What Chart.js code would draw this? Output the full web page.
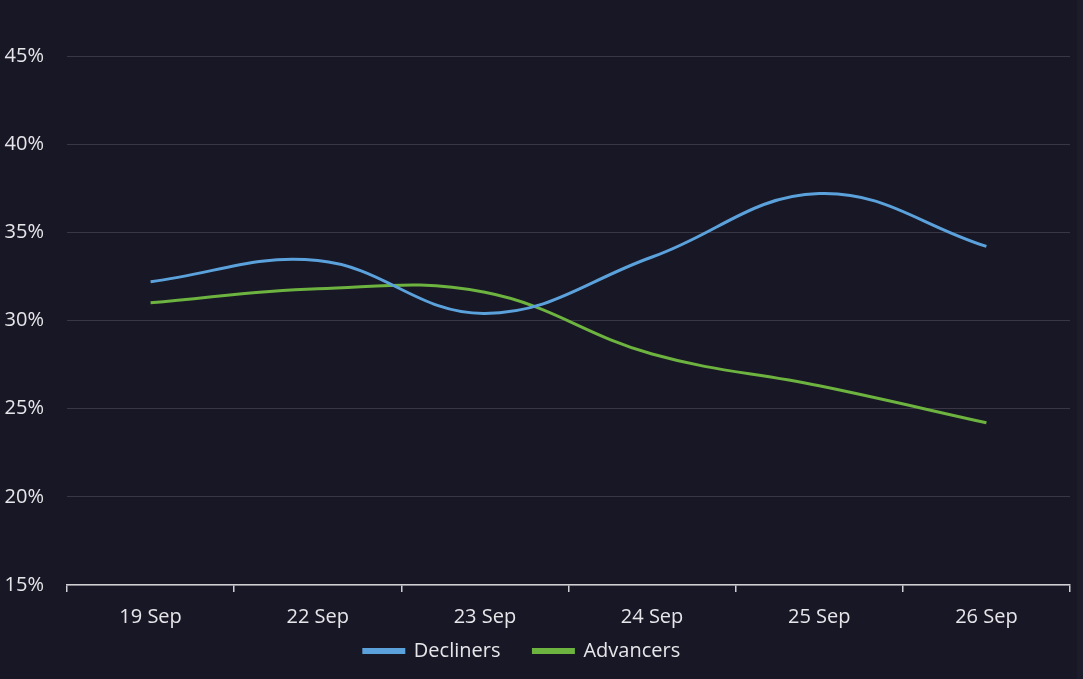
<!DOCTYPE html>
<html>
<head>
<meta charset="utf-8">
<script src="https://cdn.jsdelivr.net/npm/chart.js@4"></script>
<style>
  html, body { margin: 0; padding: 0; background: #1d1c2a; }
  #wrap { position: absolute; left: 0; top: 0; width: 1077px; height: 679px; background: #181725; }
  canvas { display: block; }
</style>
</head>
<body>
<div id="wrap"><canvas id="c" width="1077" height="679"></canvas></div>
<script>
const categories = ["19 Sep", "22 Sep", "23 Sep", "24 Sep", "25 Sep", "26 Sep"];
const decliners = [32.2, 33.4, 30.4, 33.6, 37.2, 34.2];
const advancers = [31.0, 31.8, 31.6, 28.1, 26.3, 24.2];
const yTicks = [15, 20, 25, 30, 35, 40, 45];

const FONT = "'Open Sans', 'DejaVu Sans', sans-serif";
const TEXT = '#e6e6ea';

// move the legend row so that it sits where the reference has it
const legendShift = {
  id: 'legendShift',
  afterLayout(chart) {
    const l = chart.legend;
    if (!l) return;
    const targetCenter = 651;
    const cur = l.top + l.options.labels.padding + 10;
    const d = targetCenter - cur;
    l.top += d; l.bottom += d;
    l.left -= 14; l.right -= 14;
  }
};

new Chart(document.getElementById('c'), {
  type: 'line',
  data: {
    labels: categories,
    datasets: [
      { label: 'Decliners', data: decliners, borderColor: '#5ba2dc', backgroundColor: '#5ba2dc',
        borderWidth: 3, pointRadius: 0, tension: 0.4, fill: false },
      { label: 'Advancers', data: advancers, borderColor: '#6db33f', backgroundColor: '#6db33f',
        borderWidth: 3, pointRadius: 0, tension: 0.4, fill: false }
    ]
  },
  options: {
    responsive: false,
    animation: false,
    devicePixelRatio: 1,
    layout: { padding: { top: 56, left: 2, right: 7, bottom: -26 } },
    plugins: {
      legend: {
        position: 'bottom',
        labels: {
          color: TEXT,
          font: { family: FONT, size: 20 },
          boxWidth: 40,
          boxHeight: 3,
          padding: 33
        }
      },
      tooltip: { enabled: false }
    },
    scales: {
      x: {
        offset: true,
        grid: { display: true, drawOnChartArea: false, drawTicks: true, tickLength: 7, color: '#d0d0d4', lineWidth: 1.5, offset: true },
        border: { display: true, color: '#d0d0d4', width: 1.5 },
        ticks: { color: TEXT, font: { family: FONT, size: 20 }, padding: 13, maxRotation: 0 }
      },
      y: {
        min: 15, max: 45,
        afterBuildTicks: (s) => { s.ticks = yTicks.map(v => ({ value: v })); },
        afterFit: (s) => { s.width = 65; },
        grid: { color: 'rgba(255,255,255,0.14)', lineWidth: 1, drawTicks: false },
        border: { display: false },
        ticks: { color: TEXT, font: { family: FONT, size: 20 }, padding: 23, callback: (v) => v + '%' }
      }
    }
  },
  plugins: [legendShift]
});
</script>
</body>
</html>
